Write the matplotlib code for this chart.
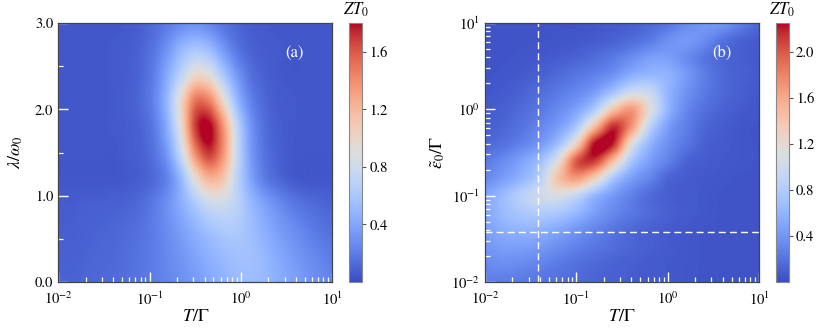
import numpy as np
import matplotlib
matplotlib.use("Agg")
import matplotlib.pyplot as plt
from matplotlib.ticker import FixedLocator, FixedFormatter, MultipleLocator, FormatStrFormatter

plt.rcParams['font.family'] = 'STIXGeneral'
plt.rcParams['mathtext.fontset'] = 'stix'

# panel (a): ZT0 on a regular grid
# columns: log10(T/Gamma) = -2.0 ... 1.0 in steps of 0.15, rows: lambda/omega0 = 0.0 ... 3.0 in steps of 0.3
a_logT = np.arange(21) * 0.15 - 2.0
a_lam = np.arange(11) * 0.3
a_zt = [
    [0.10, 0.10, 0.11, 0.12, 0.13, 0.15, 0.18, 0.21, 0.25, 0.30, 0.35, 0.41, 0.47, 0.52, 0.54, 0.51, 0.45, 0.39, 0.33, 0.28, 0.24],
    [0.09, 0.09, 0.10, 0.11, 0.12, 0.14, 0.17, 0.21, 0.26, 0.32, 0.39, 0.46, 0.52, 0.56, 0.56, 0.50, 0.42, 0.35, 0.29, 0.24, 0.20],
    [0.08, 0.08, 0.09, 0.10, 0.11, 0.13, 0.16, 0.21, 0.28, 0.37, 0.47, 0.56, 0.62, 0.62, 0.55, 0.45, 0.36, 0.29, 0.23, 0.18, 0.15],
    [0.07, 0.07, 0.08, 0.08, 0.09, 0.10, 0.13, 0.20, 0.30, 0.45, 0.62, 0.78, 0.80, 0.70, 0.52, 0.38, 0.28, 0.20, 0.15, 0.12, 0.10],
    [0.05, 0.05, 0.05, 0.05, 0.05, 0.06, 0.08, 0.13, 0.25, 0.52, 0.95, 1.22, 1.12, 0.72, 0.40, 0.21, 0.12, 0.07, 0.05, 0.05, 0.05],
    [0.05, 0.05, 0.05, 0.05, 0.05, 0.07, 0.09, 0.17, 0.36, 0.80, 1.42, 1.70, 1.38, 0.78, 0.36, 0.17, 0.09, 0.06, 0.05, 0.05, 0.05],
    [0.05, 0.05, 0.05, 0.05, 0.06, 0.07, 0.10, 0.20, 0.46, 0.98, 1.68, 1.82, 1.38, 0.74, 0.33, 0.15, 0.08, 0.06, 0.05, 0.05, 0.05],
    [0.05, 0.05, 0.05, 0.05, 0.06, 0.08, 0.12, 0.24, 0.52, 1.02, 1.50, 1.45, 1.00, 0.52, 0.24, 0.12, 0.07, 0.06, 0.05, 0.05, 0.05],
    [0.05, 0.05, 0.05, 0.05, 0.06, 0.07, 0.11, 0.22, 0.44, 0.72, 0.98, 0.92, 0.62, 0.34, 0.16, 0.09, 0.06, 0.05, 0.05, 0.05, 0.05],
    [0.05, 0.05, 0.05, 0.05, 0.06, 0.07, 0.10, 0.18, 0.32, 0.50, 0.60, 0.53, 0.34, 0.18, 0.10, 0.07, 0.06, 0.05, 0.05, 0.05, 0.05],
    [0.05, 0.05, 0.05, 0.05, 0.05, 0.06, 0.08, 0.13, 0.20, 0.27, 0.30, 0.25, 0.17, 0.11, 0.07, 0.06, 0.05, 0.05, 0.05, 0.05, 0.05],
]

# panel (b): columns log10(T/Gamma), rows log10(eps0/Gamma), both -2.0 ... 1.0 in steps of 0.2
b_logT = np.arange(16) * 0.2 - 2.0
b_logE = np.arange(16) * 0.2 - 2.0
b_zt = [
    [0.26, 0.26, 0.24, 0.22, 0.19, 0.16, 0.13, 0.11, 0.09, 0.08, 0.07, 0.06, 0.05, 0.05, 0.05, 0.05],
    [0.33, 0.35, 0.33, 0.29, 0.24, 0.19, 0.15, 0.12, 0.10, 0.08, 0.07, 0.06, 0.05, 0.05, 0.05, 0.05],
    [0.40, 0.45, 0.45, 0.42, 0.35, 0.28, 0.22, 0.17, 0.13, 0.10, 0.08, 0.065, 0.05, 0.05, 0.05, 0.05],
    [0.45, 0.55, 0.60, 0.58, 0.50, 0.40, 0.30, 0.22, 0.15, 0.11, 0.08, 0.065, 0.05, 0.05, 0.05, 0.05],
    [0.50, 0.65, 0.75, 0.80, 0.76, 0.62, 0.45, 0.32, 0.23, 0.16, 0.11, 0.08, 0.065, 0.05, 0.05, 0.05],
    [0.50, 0.65, 0.85, 1.00, 1.07, 0.92, 0.62, 0.42, 0.28, 0.16, 0.10, 0.08, 0.065, 0.05, 0.05, 0.05],
    [0.33, 0.45, 0.60, 0.85, 1.42, 1.66, 1.30, 0.75, 0.45, 0.30, 0.13, 0.09, 0.07, 0.06, 0.05, 0.05],
    [0.25, 0.34, 0.48, 0.68, 1.15, 2.00, 2.10, 1.45, 0.75, 0.45, 0.28, 0.12, 0.09, 0.07, 0.06, 0.05],
    [0.15, 0.20, 0.29, 0.42, 0.69, 1.30, 2.25, 2.18, 1.15, 0.61, 0.36, 0.22, 0.11, 0.08, 0.06, 0.05],
    [0.10, 0.14, 0.21, 0.31, 0.45, 0.76, 1.48, 2.15, 1.70, 0.88, 0.45, 0.27, 0.14, 0.09, 0.06, 0.05],
    [0.08, 0.11, 0.16, 0.23, 0.33, 0.48, 0.80, 1.40, 1.68, 1.15, 0.60, 0.32, 0.19, 0.12, 0.08, 0.06],
    [0.065, 0.08, 0.12, 0.17, 0.24, 0.32, 0.45, 0.72, 1.00, 0.95, 0.60, 0.38, 0.24, 0.15, 0.10, 0.07],
    [0.05, 0.06, 0.08, 0.11, 0.16, 0.22, 0.28, 0.38, 0.55, 0.62, 0.58, 0.42, 0.26, 0.15, 0.11, 0.08],
    [0.05, 0.05, 0.06, 0.07, 0.09, 0.12, 0.17, 0.24, 0.34, 0.45, 0.45, 0.34, 0.22, 0.14, 0.10, 0.07],
    [0.05, 0.05, 0.05, 0.05, 0.06, 0.07, 0.09, 0.12, 0.17, 0.25, 0.36, 0.42, 0.34, 0.20, 0.12, 0.08],
    [0.05, 0.05, 0.05, 0.05, 0.05, 0.05, 0.06, 0.08, 0.10, 0.14, 0.22, 0.33, 0.42, 0.40, 0.26, 0.14],
]

# dashed guide lines in (b)
T_cut = 0.038
eps_cut = 0.038

decades = [-2, -1, 0, 1]
dec_labels = [r'$10^{-2}$', r'$10^{-1}$', r'$10^{0}$', r'$10^{1}$']
minor_pos = [np.log10(m) + k for k in (-2, -1, 0) for m in range(2, 10)]


def log_like(axis):
    axis.set_major_locator(FixedLocator(decades))
    axis.set_major_formatter(FixedFormatter(dec_labels))
    axis.set_minor_locator(FixedLocator(minor_pos))


fig = plt.figure(figsize=(8.3, 3.32), dpi=100)
ax1 = fig.add_axes([0.0702, 0.1506, 0.3302, 0.7801])
cax1 = fig.add_axes([0.4208, 0.1506, 0.0157, 0.7801])
ax2 = fig.add_axes([0.5843, 0.1506, 0.3305, 0.7801])
cax2 = fig.add_axes([0.9349, 0.1506, 0.0157, 0.7801])

# catrom passes through the grid values (agg's bicubic smooths the peaks away)
hx = (a_logT[1] - a_logT[0]) / 2
hy = (a_lam[1] - a_lam[0]) / 2
m1 = ax1.imshow(a_zt, origin='lower', aspect='auto', cmap='coolwarm', vmin=0.0, vmax=1.8,
                interpolation='catrom', interpolation_stage='data',
                extent=(a_logT[0] - hx, a_logT[-1] + hx, a_lam[0] - hy, a_lam[-1] + hy))
hb = (b_logT[1] - b_logT[0]) / 2
m2 = ax2.imshow(b_zt, origin='lower', aspect='auto', cmap='coolwarm', vmin=0.0, vmax=2.25,
                interpolation='catrom', interpolation_stage='data',
                extent=(b_logT[0] - hb, b_logT[-1] + hb, b_logE[0] - hb, b_logE[-1] + hb))

ax2.axvline(np.log10(T_cut), color='white', lw=1.0, ls=(0, (5, 3)))
ax2.axhline(np.log10(eps_cut), color='white', lw=1.0, ls=(0, (5, 3)))

for ax in (ax1, ax2):
    ax.set_xlim(-2, 1)
    log_like(ax.xaxis)
    ax.tick_params(which='both', direction='in', color='white', top=False, right=False,
                   labelsize=10.5)
    ax.tick_params(axis='x', pad=6)
    ax.tick_params(which='major', length=7, width=1.0)
    ax.tick_params(which='minor', length=3.5, width=0.9)
    for s in ax.spines.values():
        s.set_color('#444444')
        s.set_linewidth(0.9)
    ax.set_xlabel(r'$T/\Gamma$', fontsize=13, labelpad=1)

ax1.set_ylim(0, 3)
ax1.yaxis.set_major_locator(MultipleLocator(1.0))
ax1.yaxis.set_minor_locator(MultipleLocator(0.5))
ax1.yaxis.set_major_formatter(FormatStrFormatter('%.1f'))
ax1.set_ylabel(r'$\lambda/\omega_0$', fontsize=13, labelpad=7)

ax2.set_ylim(-2, 1)
log_like(ax2.yaxis)
ax2.set_ylabel(r'$\tilde{\varepsilon}_0/\Gamma$', fontsize=13, labelpad=3)

ax1.text(0.86, 0.884, '(a)', transform=ax1.transAxes, color='white', fontsize=12,
         ha='center', va='center')
ax2.text(0.864, 0.884, '(b)', transform=ax2.transAxes, color='white', fontsize=12,
         ha='center', va='center')

cb1 = fig.colorbar(m1, cax=cax1, ticks=[0.4, 0.8, 1.2, 1.6])
cb2 = fig.colorbar(m2, cax=cax2, ticks=[0.4, 0.8, 1.2, 1.6, 2.0])
for cb in (cb1, cb2):
    cb.outline.set_edgecolor('#888888')
    cb.outline.set_linewidth(0.8)
    cb.ax.tick_params(direction='out', length=3, width=0.8, color='#555555', labelsize=10.5, pad=2)
    cb.ax.yaxis.set_major_formatter(FormatStrFormatter('%.1f'))
    cb.ax.text(0.5, 1.015, r'$ZT_0$', transform=cb.ax.transAxes, ha='center', va='bottom',
               fontsize=12)

fig.savefig('out.png', dpi=100)
